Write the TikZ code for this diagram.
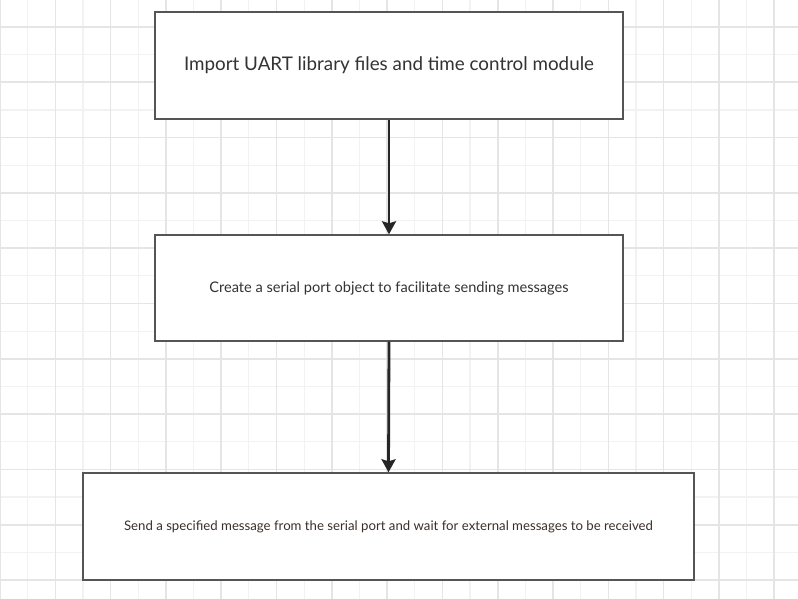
\documentclass[tikz,border=0pt]{standalone}
\usepackage{fontspec}
\setmainfont{Lato}
\usetikzlibrary{arrows.meta}
\usetikzlibrary{positioning}

\definecolor{minorgrid}{HTML}{F2F2F2}
\definecolor{majorgrid}{HTML}{E5E5E5}
\definecolor{boxline}{HTML}{555555}
\definecolor{textgray}{HTML}{333333}
\definecolor{textbrown}{HTML}{3B2F28}

\begin{document}
\begin{tikzpicture}[x=1pt,y=-1pt,
stepbox/.style={draw=boxline, line width=1.4pt, fill=white, align=center, inner sep=0pt},
flow/.style={draw=black!85, line width=2.8pt, -{Stealth[length=13pt,width=14pt,inset=2pt]}}]
\useasboundingbox (0,0) rectangle (798,599);
\fill[white] (0,0) rectangle (798,599);
\foreach \i in {0,...,29}
  \draw[minorgrid, line width=1.2pt] (\i*27.65,0) -- (\i*27.65,599);
\foreach \i in {0,...,22}
  \draw[minorgrid, line width=1.2pt] (0,-0.65+\i*27.65) -- (798,-0.65+\i*27.65);
\foreach \i in {0,...,14}
  \draw[majorgrid, line width=1.6pt] (\i*55.3,0) -- (\i*55.3,599);
\foreach \i in {0,...,10}
  \draw[majorgrid, line width=1.6pt] (0,27+\i*55.3) -- (798,27+\i*55.3);

\node[stepbox, minimum width=468pt, minimum height=107pt, text=textgray,
  font=\fontsize{18.8}{22}\selectfont] (import) at (389,65.5)
  {Import UART library files and time control module};
\node[stepbox, minimum width=468pt, minimum height=106pt, text=textgray,
  font=\fontsize{14.6}{17}\selectfont] (create) at (389,288)
  {Create a serial port object to facilitate sending messages};
\node[stepbox, minimum width=611pt, minimum height=107pt, text=textbrown,
  font=\fontsize{13.2}{16}\selectfont] (send) at (388.5,526.5)
  {Send a specified message from the serial port and wait for external messages to be received};

\draw[flow] (import.south) -- (create.north);
\draw[flow] (create.south) -- (send.north);
\end{tikzpicture}
\end{document}
